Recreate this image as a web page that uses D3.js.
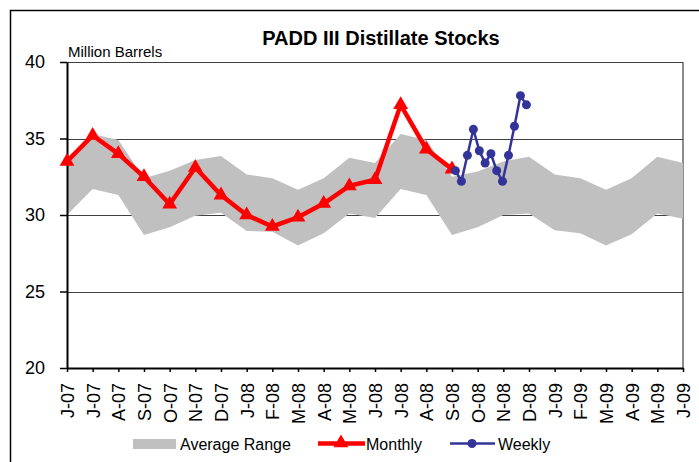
<!DOCTYPE html>
<html>
<head>
<meta charset="utf-8">
<script src="https://cdn.jsdelivr.net/npm/d3@7"></script>
<style>
  body { margin: 0; background: #fff; }
  svg { font-family: Arial, "Liberation Sans", sans-serif; }
</style>
</head>
<body>
<div id="chart"></div>
<script>
// month labels, June 2007 .. June 2009
const months = ["J-07","J-07","A-07","S-07","O-07","N-07","D-07","J-08","F-08","M-08","A-08","M-08",
                "J-08","J-08","A-08","S-08","O-08","N-08","D-08","J-09","F-09","M-09","A-09","M-09","J-09"];

// average range band (upper / lower), one value per month
const rangeHigh = [33.4, 35.3, 34.9, 32.4, 32.9, 33.6, 33.85, 32.65, 32.4, 31.65, 32.4, 33.75,
                   33.4, 35.3, 34.9, 32.5, 32.85, 33.5, 33.8, 32.65, 32.4, 31.65, 32.4, 33.8, 33.4];
const rangeLow  = [30.0, 31.7, 31.3, 28.7, 29.2, 29.95, 30.15, 28.95, 28.9, 28.0, 28.8, 30.1,
                   29.8, 31.7, 31.3, 28.7, 29.2, 30.0, 30.1, 29.0, 28.8, 28.0, 28.75, 30.1, 29.75];

// monthly stocks, June 2007 .. Sept 2008
const monthly = [33.5, 35.2, 34.0, 32.5, 30.7, 33.1, 31.3, 30.0, 29.25, 29.85, 30.75, 31.9, 32.3, 37.2, 34.3, 33.0];

// weekly stocks
const weekDates = ["2008-09-05","2008-09-12","2008-09-19","2008-09-26","2008-10-03","2008-10-10","2008-10-17",
                   "2008-10-24","2008-10-31","2008-11-07","2008-11-14","2008-11-21","2008-11-28"];
const weekly = [32.9, 32.2, 33.9, 35.6, 34.2, 33.4, 34.0, 32.9, 32.2, 33.9, 35.8, 37.8, 37.2];

const yTicks = [20, 25, 30, 35, 40];

(function() {
    const width = 699;
    const height = 462;
    const left = 67, right = 683, top = 62, bottom = 368;

    const svg = d3.select("#chart")
        .append("svg")
        .attr("width", width)
        .attr("height", height);

    const x = d3.scaleLinear().domain([0, months.length - 1]).range([left, right]);
    const y = d3.scaleLinear().domain([20, 40]).range([bottom, top]);

    // weekly dates -> fractional month index (0 = June 2007)
    const monthPos = s => {
        const d = new Date(s + "T00:00:00");
        const dim = new Date(d.getFullYear(), d.getMonth() + 1, 0).getDate();
        return (d.getFullYear() - 2007) * 12 + d.getMonth() - 5 + (d.getDate() - 1) / dim;
    };

    // outer frame (runs off the right/bottom edge)
    svg.append("rect")
        .attr("x", 10.5).attr("y", 10.5)
        .attr("width", 720).attr("height", 480)
        .attr("fill", "none")
        .attr("stroke", "#000")
        .attr("stroke-width", 1.5);

    // plot border
    svg.append("line")
        .attr("x1", right).attr("x2", right)
        .attr("y1", top).attr("y2", bottom)
        .attr("stroke", "#8c8c8c")
        .attr("stroke-width", 2);

    // gridlines
    svg.append("g")
        .selectAll("line")
        .data(yTicks.filter(v => v > 20))
        .enter().append("line")
        .attr("x1", left).attr("x2", right)
        .attr("y1", d => Math.round(y(d)) + 0.5)
        .attr("y2", d => Math.round(y(d)) + 0.5)
        .attr("stroke", "#404040")
        .attr("stroke-width", 1);

    // average range band
    const area = d3.area()
        .x((d, i) => x(i))
        .y0((d, i) => y(rangeLow[i]))
        .y1(d => y(d));
    svg.append("path")
        .datum(rangeHigh)
        .attr("d", area)
        .attr("fill", "#c0c0c0");

    // y axis
    const yAxis = svg.append("g")
        .attr("transform", `translate(${left},0)`)
        .call(d3.axisLeft(y).tickValues(yTicks).tickSize(7).tickPadding(15).tickSizeOuter(0));
    yAxis.select(".domain").attr("stroke", "#000").attr("stroke-width", 2);
    yAxis.selectAll(".tick line").attr("stroke", "#000").attr("stroke-width", 1.5);
    yAxis.selectAll("text")
        .style("font-size", "18px")
        .attr("fill", "#000");

    // x axis
    const xAxis = svg.append("g")
        .attr("transform", `translate(0,${bottom})`)
        .call(d3.axisBottom(x).tickValues(d3.range(months.length))
            .tickFormat(i => months[i]).tickSize(4).tickSizeOuter(0));
    xAxis.select(".domain").attr("stroke", "#000").attr("stroke-width", 2);
    xAxis.selectAll(".tick line").attr("stroke", "#000").attr("stroke-width", 1.5);
    xAxis.selectAll("text")
        .attr("transform", "rotate(-90)")
        .attr("x", -15)
        .attr("y", 0)
        .attr("dy", "0.36em")
        .style("text-anchor", "end")
        .style("font-size", "18px")
        .attr("fill", "#000");

    // monthly line
    const monthLine = d3.line().x((d, i) => x(i)).y(d => y(d));
    svg.append("path")
        .datum(monthly)
        .attr("d", monthLine)
        .attr("fill", "none")
        .attr("stroke", "#ff0000")
        .attr("stroke-width", 4.5)
        .attr("stroke-linejoin", "miter");

    const tri = d3.symbol(d3.symbolTriangle, 95);
    svg.append("g")
        .selectAll("path")
        .data(monthly)
        .enter().append("path")
        .attr("d", tri)
        .attr("transform", (d, i) => `translate(${x(i)},${y(d)})`)
        .attr("fill", "#ff0000");

    // weekly line
    const weekPts = weekly.map((v, i) => [monthPos(weekDates[i]), v]);
    svg.append("path")
        .datum(weekPts)
        .attr("d", d3.line().x(d => x(d[0])).y(d => y(d[1])))
        .attr("fill", "none")
        .attr("stroke", "#333399")
        .attr("stroke-width", 2.5);

    svg.append("g")
        .selectAll("circle")
        .data(weekPts)
        .enter().append("circle")
        .attr("cx", d => x(d[0]))
        .attr("cy", d => y(d[1]))
        .attr("r", 4.5)
        .attr("fill", "#333399");

    // title and unit label
    svg.append("text")
        .attr("x", 381).attr("y", 45)
        .attr("text-anchor", "middle")
        .style("font-size", "20px")
        .style("font-weight", "bold")
        .text("PADD III Distillate Stocks");

    svg.append("text")
        .attr("x", 68).attr("y", 57)
        .style("font-size", "15px")
        .text("Million Barrels");

    // legend
    const lg = svg.append("g").style("font-size", "16px");
    lg.append("rect")
        .attr("x", 133).attr("y", 439)
        .attr("width", 43).attr("height", 10)
        .attr("fill", "#c0c0c0");
    lg.append("text").attr("x", 180).attr("y", 449.5).text("Average Range");

    lg.append("line")
        .attr("x1", 318).attr("x2", 365).attr("y1", 443.5).attr("y2", 443.5)
        .attr("stroke", "#ff0000").attr("stroke-width", 4.5);
    lg.append("path")
        .attr("d", tri)
        .attr("transform", "translate(341,443)")
        .attr("fill", "#ff0000");
    lg.append("text").attr("x", 366).attr("y", 449.5).text("Monthly");

    lg.append("line")
        .attr("x1", 450).attr("x2", 495).attr("y1", 443.5).attr("y2", 443.5)
        .attr("stroke", "#333399").attr("stroke-width", 2.5);
    lg.append("circle")
        .attr("cx", 472).attr("cy", 443.5).attr("r", 4.5)
        .attr("fill", "#333399");
    lg.append("text").attr("x", 498).attr("y", 449.5).text("Weekly");
})();
</script>
</body>
</html>
